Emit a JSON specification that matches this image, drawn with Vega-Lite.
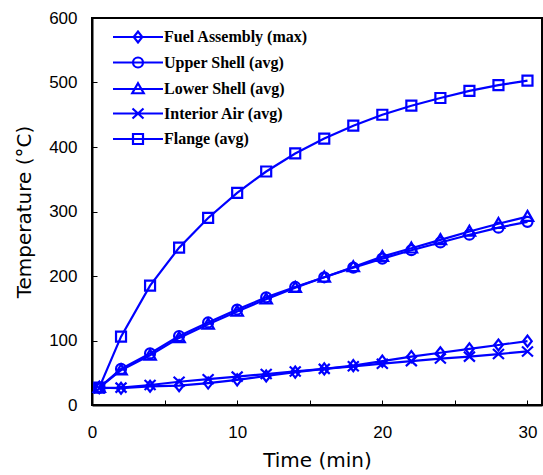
{
  "$schema": "https://vega.github.io/schema/vega-lite/v6.json",
  "width": 450,
  "height": 387,
  "autosize": {"type": "none"},
  "padding": {"left": 92, "top": 18, "right": 1, "bottom": 70},
  "background": "white",
  "config": {
    "view": {"stroke": "black", "strokeWidth": 2},
    "axis": {
      "grid": false,
      "domainColor": "black",
      "domainWidth": 2,
      "tickColor": "black",
      "tickWidth": 1,
      "labelFont": "Liberation Sans",
      "labelFontSize": 17,
      "labelColor": "black",
      "titleFont": "DejaVu Sans",
      "titleFontSize": 20,
      "titleFontWeight": "normal",
      "titleColor": "black"
    }
  },
  "data": {
    "values": [
      {"t": 0.5, "series": "Fuel Assembly (max)", "temp": 27},
      {"t": 2, "series": "Fuel Assembly (max)", "temp": 26},
      {"t": 4, "series": "Fuel Assembly (max)", "temp": 29},
      {"t": 6, "series": "Fuel Assembly (max)", "temp": 30},
      {"t": 8, "series": "Fuel Assembly (max)", "temp": 34},
      {"t": 10, "series": "Fuel Assembly (max)", "temp": 39},
      {"t": 12, "series": "Fuel Assembly (max)", "temp": 45},
      {"t": 14, "series": "Fuel Assembly (max)", "temp": 51},
      {"t": 16, "series": "Fuel Assembly (max)", "temp": 56},
      {"t": 18, "series": "Fuel Assembly (max)", "temp": 61},
      {"t": 20, "series": "Fuel Assembly (max)", "temp": 68},
      {"t": 22, "series": "Fuel Assembly (max)", "temp": 75},
      {"t": 24, "series": "Fuel Assembly (max)", "temp": 81},
      {"t": 26, "series": "Fuel Assembly (max)", "temp": 87},
      {"t": 28, "series": "Fuel Assembly (max)", "temp": 93},
      {"t": 30, "series": "Fuel Assembly (max)", "temp": 99},
      {"t": 0.5, "series": "Upper Shell (avg)", "temp": 27},
      {"t": 2, "series": "Upper Shell (avg)", "temp": 56},
      {"t": 4, "series": "Upper Shell (avg)", "temp": 80},
      {"t": 6, "series": "Upper Shell (avg)", "temp": 107},
      {"t": 8, "series": "Upper Shell (avg)", "temp": 128},
      {"t": 10, "series": "Upper Shell (avg)", "temp": 148},
      {"t": 12, "series": "Upper Shell (avg)", "temp": 167},
      {"t": 14, "series": "Upper Shell (avg)", "temp": 183},
      {"t": 16, "series": "Upper Shell (avg)", "temp": 198},
      {"t": 18, "series": "Upper Shell (avg)", "temp": 213},
      {"t": 20, "series": "Upper Shell (avg)", "temp": 227},
      {"t": 22, "series": "Upper Shell (avg)", "temp": 240},
      {"t": 24, "series": "Upper Shell (avg)", "temp": 252},
      {"t": 26, "series": "Upper Shell (avg)", "temp": 264},
      {"t": 28, "series": "Upper Shell (avg)", "temp": 275},
      {"t": 30, "series": "Upper Shell (avg)", "temp": 284},
      {"t": 0.5, "series": "Lower Shell (avg)", "temp": 27},
      {"t": 2, "series": "Lower Shell (avg)", "temp": 54},
      {"t": 4, "series": "Lower Shell (avg)", "temp": 77},
      {"t": 6, "series": "Lower Shell (avg)", "temp": 104},
      {"t": 8, "series": "Lower Shell (avg)", "temp": 125},
      {"t": 10, "series": "Lower Shell (avg)", "temp": 145},
      {"t": 12, "series": "Lower Shell (avg)", "temp": 164},
      {"t": 14, "series": "Lower Shell (avg)", "temp": 182},
      {"t": 16, "series": "Lower Shell (avg)", "temp": 198},
      {"t": 18, "series": "Lower Shell (avg)", "temp": 214},
      {"t": 20, "series": "Lower Shell (avg)", "temp": 230},
      {"t": 22, "series": "Lower Shell (avg)", "temp": 243},
      {"t": 24, "series": "Lower Shell (avg)", "temp": 256},
      {"t": 26, "series": "Lower Shell (avg)", "temp": 269},
      {"t": 28, "series": "Lower Shell (avg)", "temp": 281},
      {"t": 30, "series": "Lower Shell (avg)", "temp": 292},
      {"t": 0.5, "series": "Interior Air (avg)", "temp": 26},
      {"t": 2, "series": "Interior Air (avg)", "temp": 27},
      {"t": 4, "series": "Interior Air (avg)", "temp": 31},
      {"t": 6, "series": "Interior Air (avg)", "temp": 36},
      {"t": 8, "series": "Interior Air (avg)", "temp": 40},
      {"t": 10, "series": "Interior Air (avg)", "temp": 44},
      {"t": 12, "series": "Interior Air (avg)", "temp": 48},
      {"t": 14, "series": "Interior Air (avg)", "temp": 52},
      {"t": 16, "series": "Interior Air (avg)", "temp": 56},
      {"t": 18, "series": "Interior Air (avg)", "temp": 60},
      {"t": 20, "series": "Interior Air (avg)", "temp": 64},
      {"t": 22, "series": "Interior Air (avg)", "temp": 68},
      {"t": 24, "series": "Interior Air (avg)", "temp": 72},
      {"t": 26, "series": "Interior Air (avg)", "temp": 75},
      {"t": 28, "series": "Interior Air (avg)", "temp": 79},
      {"t": 30, "series": "Interior Air (avg)", "temp": 83},
      {"t": 0.5, "series": "Flange (avg)", "temp": 27},
      {"t": 2, "series": "Flange (avg)", "temp": 106},
      {"t": 4, "series": "Flange (avg)", "temp": 185},
      {"t": 6, "series": "Flange (avg)", "temp": 244},
      {"t": 8, "series": "Flange (avg)", "temp": 290},
      {"t": 10, "series": "Flange (avg)", "temp": 329},
      {"t": 12, "series": "Flange (avg)", "temp": 362},
      {"t": 14, "series": "Flange (avg)", "temp": 390},
      {"t": 16, "series": "Flange (avg)", "temp": 413},
      {"t": 18, "series": "Flange (avg)", "temp": 433},
      {"t": 20, "series": "Flange (avg)", "temp": 450},
      {"t": 22, "series": "Flange (avg)", "temp": 464},
      {"t": 24, "series": "Flange (avg)", "temp": 476},
      {"t": 26, "series": "Flange (avg)", "temp": 487},
      {"t": 28, "series": "Flange (avg)", "temp": 496},
      {"t": 30, "series": "Flange (avg)", "temp": 503}
    ]
  },
  "encoding": {
    "x": {
      "field": "t",
      "type": "quantitative",
      "title": "Time (min)",
      "scale": {"domain": [0, 31], "nice": false},
      "axis": {
        "values": [0, 5, 10, 15, 20, 25, 30],
        "labelExpr": "datum.value % 10 === 0 ? datum.label : ''",
        "tickSize": -5,
        "labelPadding": 24,
        "labelFlush": false,
        "titlePadding": 10
      }
    },
    "y": {
      "field": "temp",
      "type": "quantitative",
      "title": "Temperature (°C)",
      "scale": {"domain": [0, 600], "nice": false},
      "axis": {
        "values": [0, 100, 200, 300, 400, 500, 600],
        "tickSize": -5,
        "labelPadding": 20,
        "titlePadding": 14
      }
    }
  },
  "layer": [
    {
      "mark": {"type": "line", "color": "#0000ff", "strokeWidth": 2.2},
      "encoding": {"detail": {"field": "series"}}
    },
    {
      "mark": {"type": "point", "color": "#0000ff", "filled": false, "strokeWidth": 2.2, "size": 100, "opacity": 1},
      "encoding": {
        "shape": {
          "field": "series",
          "type": "nominal",
          "scale": {
            "domain": ["Fuel Assembly (max)", "Upper Shell (avg)", "Lower Shell (avg)", "Interior Air (avg)", "Flange (avg)"],
            "range": [
              "M-0.85,0L0,-1.1L0.85,0L0,1.1Z",
              "circle",
              "M0,-1.15L1.15,0.85L-1.15,0.85Z",
              "M-1.1,-1L1.1,1M-1.1,1L1.1,-1",
              "M-1,-1L1,-1L1,1L-1,1Z"
            ]
          },
          "legend": null
        }
      }
    },
    {
      "transform": [{"filter": "datum.t < 0"}],
      "mark": {"type": "point", "color": "#0000ff", "filled": false, "strokeWidth": 2.2, "size": 100, "opacity": 1},
      "encoding": {
        "shape": {
          "field": "series",
          "type": "nominal",
          "scale": {
            "domain": ["Fuel Assembly (max)", "Upper Shell (avg)", "Lower Shell (avg)", "Interior Air (avg)", "Flange (avg)"],
            "range": [
              "M-5,0L5,0M-0.85,0L0,-1.1L0.85,0L0,1.1Z",
              "M-5,0L5,0M1,0A1,1,0,1,1,-1,0A1,1,0,1,1,1,0Z",
              "M-5,0L5,0M0,-1.15L1.15,0.85L-1.15,0.85Z",
              "M-5,0L5,0M-1.1,-1L1.1,1M-1.1,1L1.1,-1",
              "M-5,0L5,0M-1,-1L1,-1L1,1L-1,1Z"
            ]
          },
          "legend": {
            "title": null,
            "orient": "none",
            "legendX": 38,
            "legendY": 11,
            "padding": 0,
            "symbolSize": 100,
            "symbolStrokeWidth": 2.2,
            "symbolStrokeColor": "#0000ff",
            "symbolFillColor": "transparent",
            "labelFont": "Liberation Serif",
            "labelFontWeight": "bold",
            "labelFontSize": 16,
            "labelColor": "black",
            "labelOffset": 18,
            "labelLimit": 300,
            "rowPadding": 5.5
          }
        }
      }
    }
  ],
  "resolve": {"scale": {"shape": "independent"}}
}
